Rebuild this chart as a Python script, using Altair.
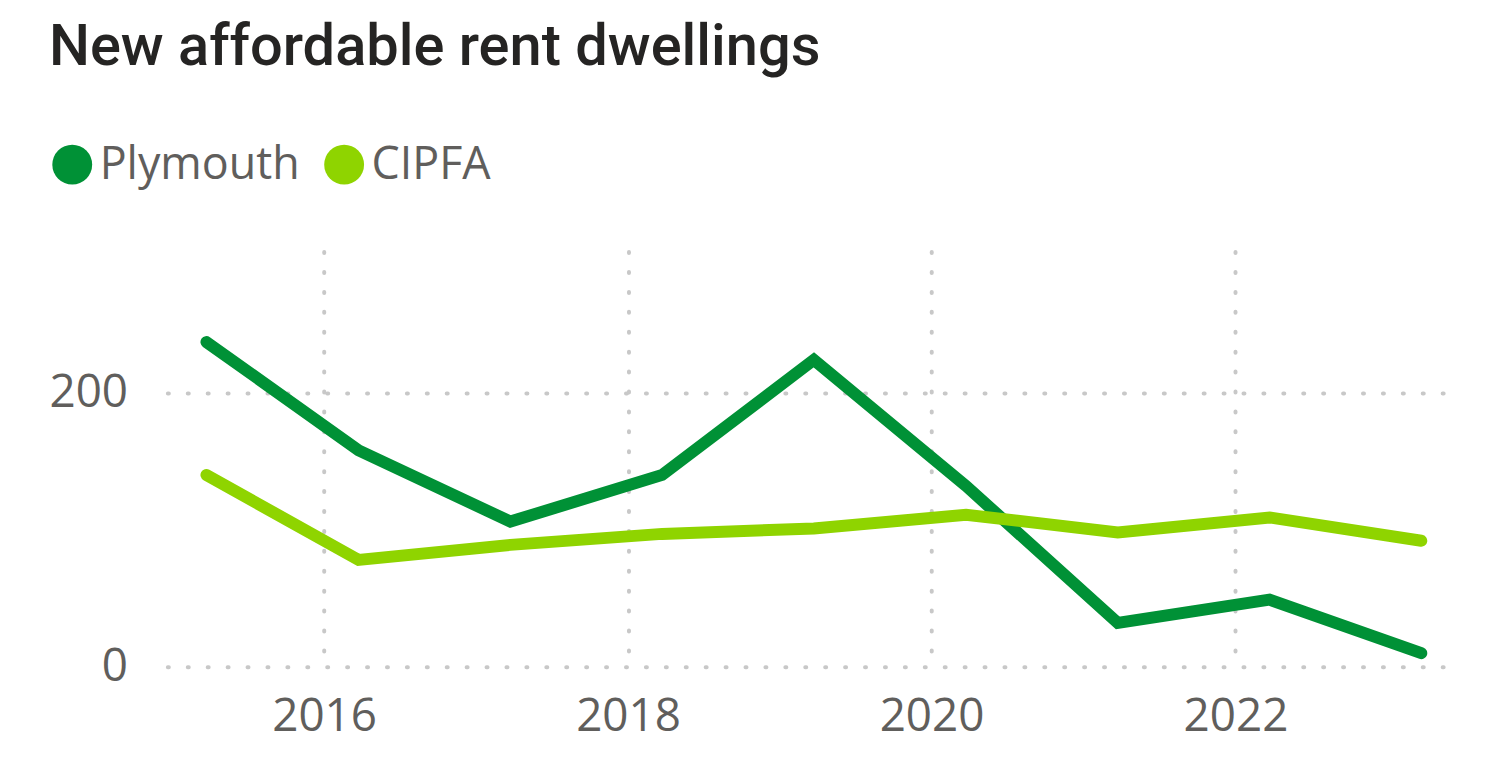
import altair as alt
import pandas as pd

# ---- data ----
dates = ["2015-03-24", "2016-03-24", "2017-03-24", "2018-03-24", "2019-03-24",
         "2020-03-24", "2021-03-24", "2022-03-24", "2023-03-24"]
plymouth = [237, 158, 106, 140, 224, 132, 32, 49, 10]
cipfa = [140, 78, 89, 97, 101, 111, 98, 109, 92]
series_names = ["Plymouth", "CIPFA"]
series_colors = ["#009136", "#8fd400"]
x_tick_years = [2016, 2018, 2020, 2022]
y_ticks = [0, 200]
title_text = "New affordable rent dwellings"

rows = []
for d, p, c in zip(dates, plymouth, cipfa):
    rows.append({"date": d, "series": "Plymouth", "value": p})
    rows.append({"date": d, "series": "CIPFA", "value": c})
df = pd.DataFrame(rows)

label_font = "Open Sans"
label_color = "#605e5c"
grid_props = dict(
    grid=True,
    gridColor="#c8c8c8",
    gridWidth=4,
    gridDash=[1, 19],
    gridCap="round",
)

x_enc = alt.X(
    "date:T",
    scale=alt.Scale(domain=[alt.DateTime(year=2014, month=12, date=20),
                            alt.DateTime(year=2023, month=5, date=18)]),
    axis=alt.Axis(
        title=None,
        values=[alt.DateTime(year=y) for y in x_tick_years],
        format="%Y",
        domain=False,
        ticks=False,
        tickSize=0,
        labelPadding=28,
        labelFont=label_font,
        labelFontSize=46,
        labelColor=label_color,
        **grid_props,
    ),
)
y_enc = alt.Y(
    "value:Q",
    scale=alt.Scale(domain=[0, 303], nice=False, zero=True),
    axis=alt.Axis(
        title=None,
        values=y_ticks,
        domain=False,
        ticks=False,
        tickSize=0,
        labelPadding=40,
        labelFont=label_font,
        labelFontSize=46,
        labelColor=label_color,
        **grid_props,
    ),
)
color_scale = alt.Scale(domain=series_names, range=series_colors)

points = alt.Chart(df).mark_point(filled=True, size=50, opacity=1).encode(
    x=x_enc,
    y=y_enc,
    color=alt.Color(
        "series:N",
        scale=color_scale,
        sort=series_names,
        legend=alt.Legend(
            title=None,
            orient="none",
            legendX=-118,
            legendY=-110,
            direction="horizontal",
            symbolType="circle",
            symbolSize=1600,
            symbolStrokeWidth=0,
            symbolOpacity=1,
            labelFont=label_font,
            labelFontSize=45,
            labelColor=label_color,
            labelLimit=0,
            labelOffset=5,
            columnPadding=22,
            padding=0,
        ),
    ),
)

lines = alt.Chart(df).mark_line(strokeWidth=12, strokeCap="round").encode(
    x=x_enc,
    y=y_enc,
    color=alt.Color("series:N", scale=color_scale, sort=series_names, legend=None),
    detail="series:N",
)

chart = alt.layer(points, lines).properties(
    width=1282,
    height=417,
    autosize=alt.AutoSizeParams(type="none"),
    padding={"left": 160, "top": 243, "right": 40, "bottom": 100},
    title=alt.TitleParams(
        text=title_text,
        anchor="start",
        frame="bounds",
        orient="top",
        baseline="alphabetic",
        offset=19,
        font="Roboto",
        fontSize=58,
        fontWeight=500,
        color="#252423",
    ),
).configure(background="#ffffff").configure_view(stroke=None, strokeWidth=0)

chart.save("out.html", embed_options={"renderer": "svg", "actions": False})
